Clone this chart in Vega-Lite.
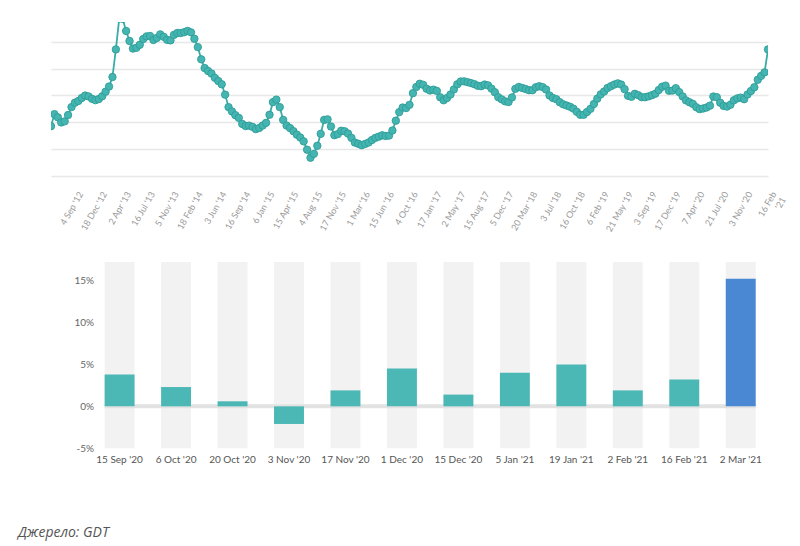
{
  "$schema": "https://vega.github.io/schema/vega-lite/v6.json",
  "padding": {"left": 18, "top": 22, "right": 10, "bottom": 8},
  "config": {
    "view": {"stroke": null},
    "font": "Lato",
    "axis": {"title": null, "domain": false, "ticks": false, "labelFont": "Lato"}
  },
  "title": {
    "text": "Джерело: GDT",
    "orient": "bottom",
    "anchor": "start",
    "font": "Open Sans",
    "fontStyle": "italic",
    "fontWeight": "normal",
    "fontSize": 14,
    "color": "#555555",
    "dx": -33,
    "offset": 62
  },
  "datasets": {
    "gdt": [
      {"i":0,"v":971},{"i":1,"v":1061},{"i":2,"v":1037},{"i":3,"v":999},{"i":4,"v":1007},{"i":5,"v":1054},{"i":6,"v":1113},{"i":7,"v":1146},{"i":8,"v":1159},{"i":9,"v":1181},
      {"i":10,"v":1199},{"i":11,"v":1193},{"i":12,"v":1175},{"i":13,"v":1165},{"i":14,"v":1173},{"i":15,"v":1194},{"i":16,"v":1228},{"i":17,"v":1266},{"i":18,"v":1337},{"i":19,"v":1543},
      {"i":20,"v":1775},{"i":21,"v":1770},{"i":22,"v":1680},{"i":23,"v":1606},{"i":24,"v":1549},{"i":25,"v":1555},{"i":26,"v":1577},{"i":27,"v":1620},{"i":28,"v":1640},{"i":29,"v":1643},
      {"i":30,"v":1613},{"i":31,"v":1628},{"i":32,"v":1655},{"i":33,"v":1637},{"i":34,"v":1614},{"i":35,"v":1610},{"i":36,"v":1651},{"i":37,"v":1665},{"i":38,"v":1665},{"i":39,"v":1671},
      {"i":40,"v":1681},{"i":41,"v":1670},{"i":42,"v":1622},{"i":43,"v":1560},{"i":44,"v":1469},{"i":45,"v":1404},{"i":46,"v":1382},{"i":47,"v":1363},{"i":48,"v":1331},{"i":49,"v":1307},
      {"i":50,"v":1283},{"i":51,"v":1206},{"i":52,"v":1113},{"i":53,"v":1081},{"i":54,"v":1053},{"i":55,"v":1033},{"i":56,"v":988},{"i":57,"v":972},{"i":58,"v":975},{"i":59,"v":966},
      {"i":60,"v":949},{"i":61,"v":958},{"i":62,"v":976},{"i":63,"v":996},{"i":64,"v":1056},{"i":65,"v":1150},{"i":66,"v":1169},{"i":67,"v":1113},{"i":68,"v":1018},{"i":69,"v":976},
      {"i":70,"v":957},{"i":71,"v":934},{"i":72,"v":908},{"i":73,"v":887},{"i":74,"v":858},{"i":75,"v":796},{"i":76,"v":736},{"i":77,"v":765},{"i":78,"v":825},{"i":79,"v":914},
      {"i":80,"v":1018},{"i":81,"v":1022},{"i":82,"v":969},{"i":83,"v":904},{"i":84,"v":912},{"i":85,"v":937},{"i":86,"v":933},{"i":87,"v":916},{"i":88,"v":884},{"i":89,"v":849},
      {"i":90,"v":840},{"i":91,"v":829},{"i":92,"v":839},{"i":93,"v":849},{"i":94,"v":868},{"i":95,"v":884},{"i":96,"v":893},{"i":97,"v":903},{"i":98,"v":898},{"i":99,"v":901},
      {"i":100,"v":939},{"i":101,"v":1012},{"i":102,"v":1076},{"i":103,"v":1110},{"i":104,"v":1106},{"i":105,"v":1130},{"i":106,"v":1217},{"i":107,"v":1263},{"i":108,"v":1287},{"i":109,"v":1279},
      {"i":110,"v":1250},{"i":111,"v":1237},{"i":112,"v":1243},{"i":113,"v":1234},{"i":114,"v":1186},{"i":115,"v":1164},{"i":116,"v":1181},{"i":117,"v":1207},{"i":118,"v":1245},{"i":119,"v":1283},
      {"i":120,"v":1304},{"i":121,"v":1305},{"i":122,"v":1299},{"i":123,"v":1292},{"i":124,"v":1284},{"i":125,"v":1272},{"i":126,"v":1269},{"i":127,"v":1281},{"i":128,"v":1275},{"i":129,"v":1251},
      {"i":130,"v":1224},{"i":131,"v":1187},{"i":132,"v":1171},{"i":133,"v":1156},{"i":134,"v":1151},{"i":135,"v":1185},{"i":136,"v":1249},{"i":137,"v":1263},{"i":138,"v":1256},{"i":139,"v":1248},
      {"i":140,"v":1239},{"i":141,"v":1239},{"i":142,"v":1261},{"i":143,"v":1269},{"i":144,"v":1262},{"i":145,"v":1244},{"i":146,"v":1200},{"i":147,"v":1181},{"i":148,"v":1172},{"i":149,"v":1150},
      {"i":150,"v":1134},{"i":151,"v":1125},{"i":152,"v":1116},{"i":153,"v":1102},{"i":154,"v":1078},{"i":155,"v":1056},{"i":156,"v":1056},{"i":157,"v":1077},{"i":158,"v":1100},{"i":159,"v":1136},
      {"i":160,"v":1176},{"i":161,"v":1208},{"i":162,"v":1229},{"i":163,"v":1255},{"i":164,"v":1269},{"i":165,"v":1281},{"i":166,"v":1290},{"i":167,"v":1281},{"i":168,"v":1247},{"i":169,"v":1197},
      {"i":170,"v":1190},{"i":171,"v":1212},{"i":172,"v":1202},{"i":173,"v":1187},{"i":174,"v":1187},{"i":175,"v":1193},{"i":176,"v":1202},{"i":177,"v":1213},{"i":178,"v":1240},{"i":179,"v":1265},
      {"i":180,"v":1273},{"i":181,"v":1235},{"i":182,"v":1236},{"i":183,"v":1254},{"i":184,"v":1225},{"i":185,"v":1193},{"i":186,"v":1163},{"i":187,"v":1149},{"i":188,"v":1137},{"i":189,"v":1112},
      {"i":190,"v":1098},{"i":191,"v":1103},{"i":192,"v":1110},{"i":193,"v":1124},{"i":194,"v":1192},{"i":195,"v":1187},{"i":196,"v":1146},{"i":197,"v":1122},{"i":198,"v":1117},{"i":199,"v":1131},
      {"i":200,"v":1164},{"i":201,"v":1178},{"i":202,"v":1184},{"i":203,"v":1172},{"i":204,"v":1207},{"i":205,"v":1233},{"i":206,"v":1261},{"i":207,"v":1317},{"i":208,"v":1346},{"i":209,"v":1372},
      {"i":210,"v":1543}
    ],
    "chg": [
      {"d":"15 Sep '20","pct":3.8},
      {"d":"6 Oct '20","pct":2.3},
      {"d":"20 Oct '20","pct":0.6},
      {"d":"3 Nov '20","pct":-2.1},
      {"d":"17 Nov '20","pct":1.9},
      {"d":"1 Dec '20","pct":4.5},
      {"d":"15 Dec '20","pct":1.4},
      {"d":"5 Jan '21","pct":4.0},
      {"d":"19 Jan '21","pct":5.0},
      {"d":"2 Feb '21","pct":1.9},
      {"d":"16 Feb '21","pct":3.2},
      {"d":"2 Mar '21","pct":15.2}
    ]
  },
  "spacing": 28,
  "vconcat": [
    {
      "width": 717,
      "height": 154,
      "data": {"name": "gdt"},
      "encoding": {
        "x": {
          "field": "i", "type": "quantitative",
          "scale": {"domain": [0, 210], "nice": false, "zero": false},
          "axis": {
            "values": [6,13,20,27,34,41,48,55,62,69,76,83,90,97,104,111,118,125,132,139,146,153,160,167,174,181,188,195,202,209],
            "labelExpr": "[\"4 Sep '12\",\"18 Dec '12\",\"2 Apr '13\",\"16 Jul '13\",\"5 Nov '13\",\"18 Feb '14\",\"3 Jun '14\",\"16 Sep '14\",\"6 Jan '15\",\"15 Apr '15\",\"4 Aug '15\",\"17 Nov '15\",\"1 Mar '16\",\"15 Jun '16\",\"4 Oct '16\",\"17 Jan '17\",\"2 May '17\",\"15 Aug '17\",\"5 Dec '17\",\"20 Mar '18\",\"3 Jul '18\",\"16 Oct '18\",\"6 Feb '19\",\"21 May '19\",\"3 Sep '19\",\"17 Dec '19\",\"7 Apr '20\",\"21 Jul '20\",\"3 Nov '20\",[\"16 Feb\",\"'21\"]][round((datum.value-6)/7)]",
            "labelAngle": -60,
            "labelAlign": "right",
            "labelBaseline": "middle",
            "labelPadding": 16,
            "labelOffset": 9,
            "labelFontSize": 9,
            "labelColor": "#999999",
            "labelOverlap": false,
            "labelFlush": false,
            "grid": false
          }
        },
        "y": {
          "field": "v", "type": "quantitative",
          "scale": {"domain": [600, 1747], "nice": false, "zero": false},
          "axis": {
            "values": [600, 800, 1000, 1200, 1400, 1600],
            "labels": false,
            "grid": true,
            "gridColor": "#e8e8e8",
            "gridWidth": 1.5
          }
        }
      },
      "layer": [
        {"mark": {"type": "line", "color": "#3aaca7", "strokeWidth": 1.8, "clip": true}},
        {"mark": {"type": "point", "filled": true, "shape": "circle", "size": 55, "fill": "#44b5b0", "stroke": "#2f9d98", "strokeWidth": 0.9, "opacity": 1, "clip": true}}
      ]
    },
    {
      "width": 704.7,
      "height": 186.3,
      "data": {"name": "chg"},
      "layer": [
        {
          "mark": {"type": "bar", "color": "#f2f2f2"},
          "encoding": {
            "x": {
              "field": "d", "type": "ordinal",
              "scale": {"domain": ["15 Sep '20","6 Oct '20","20 Oct '20","3 Nov '20","17 Nov '20","1 Dec '20","15 Dec '20","5 Jan '21","19 Jan '21","2 Feb '21","16 Feb '21","2 Mar '21"], "paddingInner": 0.47, "paddingOuter": 0.475, "align": 1},
              "axis": {"labelAngle": 0, "labelPadding": 6, "labelFontSize": 10, "labelColor": "#555555", "grid": false}
            },
            "y": {
              "datum": -5, "type": "quantitative",
              "scale": {"domain": [-5, 17.2], "nice": false},
              "axis": {"values": [-5, 0, 5, 10, 15], "labelExpr": "datum.value + '%'", "offset": -53.6, "labelPadding": 11, "labelFontSize": 10, "labelColor": "#666666", "grid": false}
            },
            "y2": {"datum": 17.2}
          }
        },
        {
          "data": {"values": [{"a": "15 Sep '20", "b": "2 Mar '21"}]},
          "mark": {"type": "rule", "color": "#e2e2e2", "strokeWidth": 4},
          "encoding": {
            "x": {"field": "a", "type": "ordinal", "bandPosition": 0},
            "x2": {"field": "b", "bandPosition": 1},
            "y": {"datum": 0, "type": "quantitative"}
          }
        },
        {
          "mark": {"type": "bar"},
          "encoding": {
            "x": {"field": "d", "type": "ordinal"},
            "y": {"field": "pct", "type": "quantitative"},
            "color": {"condition": {"test": "datum.d === \"2 Mar '21\"", "value": "#4a88d3"}, "value": "#4bb8b5"}
          }
        }
      ]
    }
  ]
}
